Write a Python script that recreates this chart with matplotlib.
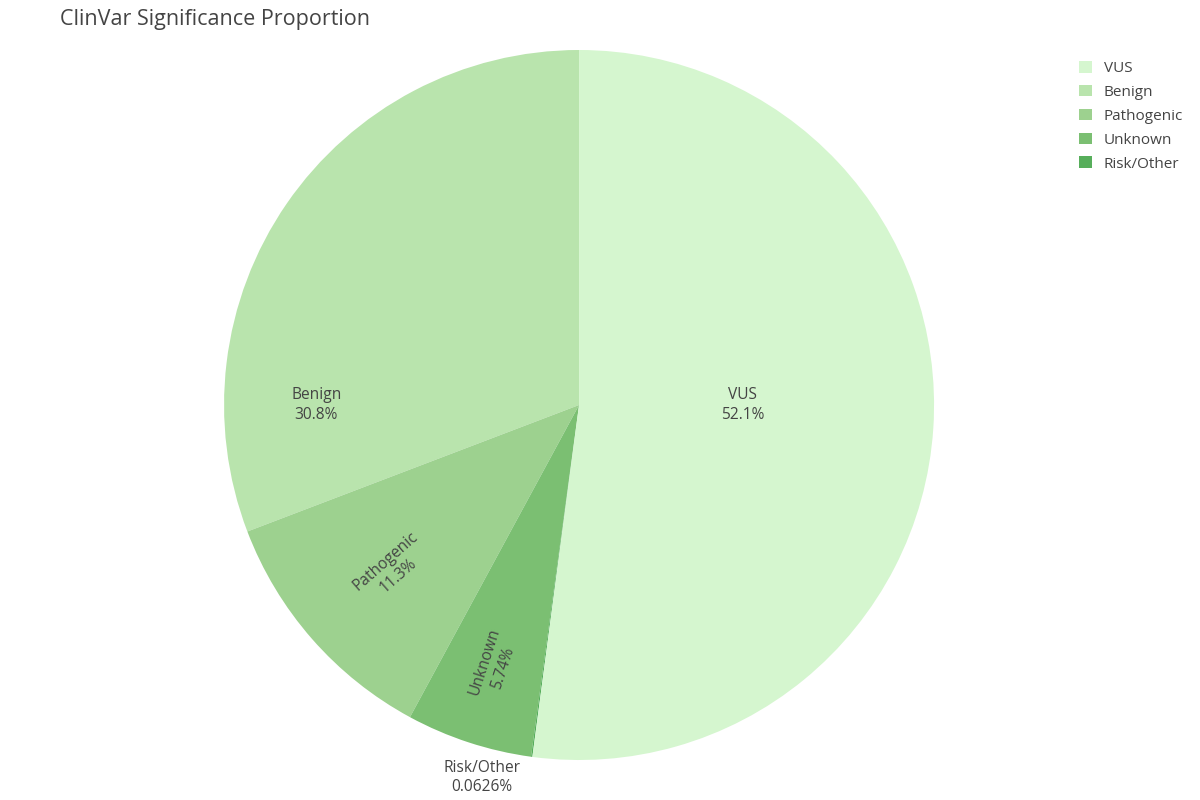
import numpy as np
import matplotlib.pyplot as plt
from matplotlib.patches import Patch

plt.rcParams["font.family"] = ["Open Sans", "DejaVu Sans"]

labels = ["VUS", "Benign", "Pathogenic", "Unknown", "Risk/Other"]
percent = [52.1, 30.8, 11.3, 5.74, 0.0626]
colors = ["#d5f6cf", "#b9e4ad", "#9dd18f", "#7bbf72", "#57ae5b"]

# drawing order (counter-clockwise from 12 o'clock)
order = [1, 2, 3, 4, 0]

fig = plt.figure(figsize=(12, 8), dpi=100)
ax = fig.add_axes([0.1867, 0.05, 0.5917, 0.8875])

vals = [percent[i] for i in order]
cols = [colors[i] for i in order]
wedges, _ = ax.pie(vals, colors=cols, startangle=90, counterclock=True,
                   radius=1, wedgeprops=dict(linewidth=0))
ax.set_xlim(-1, 1)
ax.set_ylim(-1, 1)
ax.set_aspect("equal")
ax.axis("off")

txt_col = "#444444"
# label placement: (radius fraction, rotation mode)
place = {"Benign": (0.74, "flat180"), "Pathogenic": (0.70, "radial"),
         "Unknown": (0.77, "radial"), "Risk/Other": (1.085, "outside"),
         "VUS": (0.46, "flat0")}
for w, i in zip(wedges, order):
    name = labels[i]
    s = f"{name}\n{percent[i]:.3g}%"
    r, mode = place[name]
    th = (w.theta1 + w.theta2) / 2
    rot = 0
    if mode == "flat180":
        th = 180
    elif mode == "flat0":
        th = 0
    elif mode == "radial":
        rot = th - 180
    elif mode == "outside":
        th = th - 7
    x = r * np.cos(np.radians(th))
    y = r * np.sin(np.radians(th))
    ax.text(x, y, s, ha="center", va="center", rotation=rot,
            rotation_mode="anchor", fontsize=11.2, color=txt_col,
            linespacing=1.3)

fig.text(0.05, 0.975, "ClinVar Significance Proportion", fontsize=15.5,
         color=txt_col, ha="left", va="center")

handles = [Patch(facecolor=c, edgecolor="none") for c in colors]
fig.legend(handles, labels, loc="upper left", bbox_to_anchor=(0.888, 0.941),
           frameon=False, fontsize=11, handlelength=0.8, handleheight=0.8,
           handletextpad=0.8, labelspacing=0.57, labelcolor=txt_col)

fig.savefig("out.png", dpi=100)
